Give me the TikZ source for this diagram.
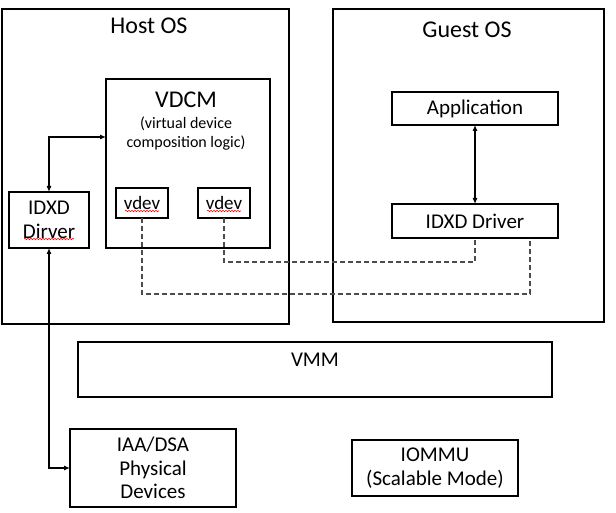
\documentclass[tikz,border=0pt]{standalone}
\usepackage{fontspec}
\setmainfont{Carlito}
\usetikzlibrary{arrows.meta,positioning}
\usetikzlibrary{decorations.pathmorphing}

\newcommand{\bigtxt}{\fontsize{24}{28}\selectfont}
\newcommand{\midtxt}{\fontsize{21}{23.5}\selectfont}
\newcommand{\smalltxt}{\fontsize{16}{19}\selectfont}
\newcommand{\devtxt}{\fontsize{19}{20}\selectfont}

\begin{document}
\begin{tikzpicture}[x=1pt,y=-1pt]
     \tikzstyle{box_style} = [draw=black,line width=1.1pt,inner sep=0pt,outer sep=0pt,align=center,font=\midtxt]
     \tikzstyle{text_style} = [inner sep=0pt,align=center]
     \tikzstyle{edge_style} = [draw=black,line width=1.1pt,{Latex[length=6pt,width=5pt]}-{Latex[length=6pt,width=5pt]}]
     \tikzstyle{dash_style} = [draw=black!70,line width=1.1pt,dash pattern=on 5pt off 3pt]
     \tikzstyle{typo_style} = [draw=red,line width=0.6pt,decorate,decoration={snake,amplitude=0.7pt,segment length=3pt}]
     \useasboundingbox (0,0) rectangle (616,513);
     % containers
     \node[box_style,minimum width=287pt,minimum height=315pt] (host) at (145.5,166.5) {};
     \node[box_style,minimum width=271pt,minimum height=313pt] (guest) at (468.5,165.5) {};
     \node[text_style,font=\bigtxt] (hostlbl) at (149,26) {Host OS};
     \node[text_style,font=\bigtxt] (guestlbl) at (467,30) {Guest OS};
     % host side
     \node[box_style,minimum width=164pt,minimum height=169pt] (vdcm) at (188,163.5) {};
     \node[text_style,font=\bigtxt] (vdcmlbl) at (186,100) {VDCM};
     \node[text_style,font=\smalltxt] (vdcmsub) at (186,133.5) {(virtual device\\composition logic)};
     \node[box_style,font=\devtxt,minimum width=52pt,minimum height=30pt] (vdevA) at (142,203) {vdev};
     \node[box_style,font=\devtxt,minimum width=52pt,minimum height=30pt] (vdevB) at (224,203) {vdev};
     \node[box_style,minimum width=80pt,minimum height=56pt] (hdrv) at (49,220) {IDXD\\Dirver};
     % guest side
     \node[box_style,minimum width=166pt,minimum height=33pt] (app) at (475,108.5) {Application};
     \node[box_style,minimum width=166pt,minimum height=34pt] (gdrv) at (475,221) {IDXD Driver};
     % lower row
     \node[box_style,minimum width=474pt,minimum height=55pt] (vmm) at (315,369.5) {};
     \node[text_style,font=\midtxt] (vmmlbl) at (315,360) {VMM};
     \node[box_style,minimum width=166pt,minimum height=78pt] (phys) at (153,468) {IAA/DSA\\Physical\\Devices};
     \node[box_style,minimum width=166pt,minimum height=56pt] (iommu) at (435,468) {IOMMU\\(Scalable Mode)};
     % links
     \draw[edge_style]  (hdrv.north) |- ([yshift=26.5pt]vdcm.west);
     \draw[edge_style]  (app.south) -- (gdrv.north);
     \draw[edge_style]  (hdrv.south) |- (phys.west);
     \draw[dash_style]  (vdevB.south) -- ++(0,44) -| (gdrv.south);
     \draw[dash_style]  (vdevA.south) -- ++(0,76) -| ([xshift=-28pt]gdrv.south east);
     % spell-check marks
     \draw[typo_style]  ([shift={(-17,8)}]vdevA.center) -- ([shift={(17,8)}]vdevA.center);
     \draw[typo_style]  ([shift={(-17,8)}]vdevB.center) -- ([shift={(17,8)}]vdevB.center);
     \draw[typo_style]  ([shift={(-25,19)}]hdrv.center) -- ([shift={(25,19)}]hdrv.center);
\end{tikzpicture}
\end{document}
